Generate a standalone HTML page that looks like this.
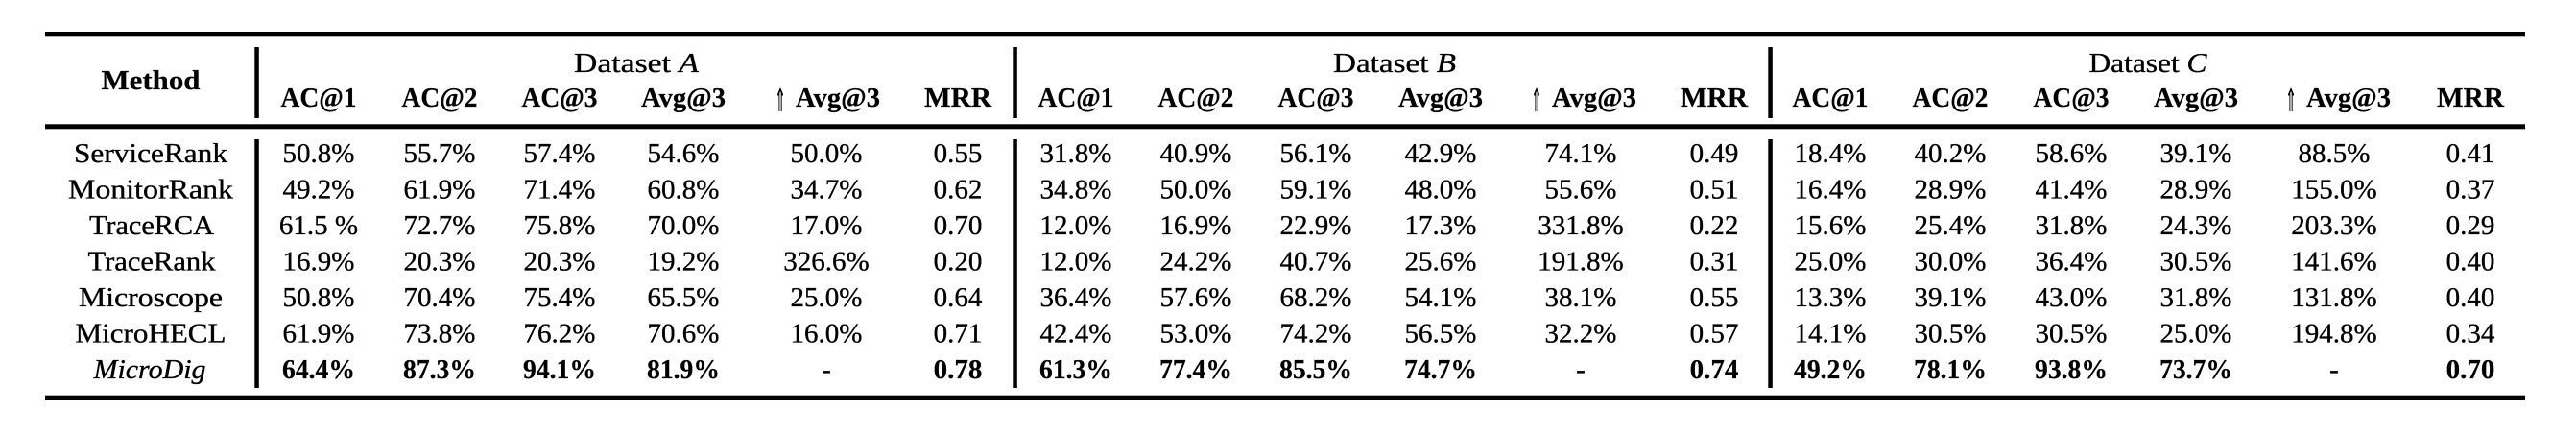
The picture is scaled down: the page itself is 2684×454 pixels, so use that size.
<!DOCTYPE html>
<html><head><meta charset="utf-8"><style>
html,body{margin:0;padding:0;background:#fff;}
svg{display:block;}
text{font-family:"Liberation Serif",serif;font-size:29px;fill:#000;stroke:#000;stroke-width:0.35px;}
.b{font-weight:bold;stroke-width:0.2px;}
.m{text-anchor:middle;}
.ar{font-family:"DejaVu Sans",sans-serif;font-size:33px;stroke-width:0.3px;}
</style></head><body>
<svg width="2684" height="454" viewBox="0 0 2684 454" xmlns="http://www.w3.org/2000/svg">
<rect width="2684" height="454" fill="#fff"/>
<!-- rules -->
<rect x="47" y="33" width="2584" height="5.3" fill="#000"/>
<rect x="47" y="129.3" width="2584" height="5" fill="#000"/>
<rect x="47" y="411.7" width="2584" height="5" fill="#000"/>
<!-- vertical bars header -->
<rect x="265.3" y="49" width="4.5" height="74" fill="#000"/>
<rect x="1055.3" y="49" width="4.5" height="74" fill="#000"/>
<rect x="1842.3" y="49" width="4.5" height="74" fill="#000"/>
<!-- vertical bars body -->
<rect x="265.3" y="145" width="4.5" height="259" fill="#000"/>
<rect x="1055.3" y="145" width="4.5" height="259" fill="#000"/>
<rect x="1842.3" y="145" width="4.5" height="259" fill="#000"/>

<!-- header -->
<text class="b m" x="157" y="93" textLength="103" lengthAdjust="spacingAndGlyphs">Method</text>
<text class="m" x="663" y="75" textLength="130" lengthAdjust="spacingAndGlyphs">Dataset <tspan font-style="italic">A</tspan></text>
<text class="m" x="1453" y="75" textLength="128" lengthAdjust="spacingAndGlyphs">Dataset <tspan font-style="italic">B</tspan></text>
<text class="m" x="2238" y="75" textLength="123" lengthAdjust="spacingAndGlyphs">Dataset <tspan font-style="italic">C</tspan></text>

<text class="b m" x="332" y="111" textLength="79" lengthAdjust="spacingAndGlyphs">AC@1</text>
<text class="b m" x="458" y="111" textLength="79" lengthAdjust="spacingAndGlyphs">AC@2</text>
<text class="b m" x="583" y="111" textLength="79" lengthAdjust="spacingAndGlyphs">AC@3</text>
<text class="b m" x="712" y="111" textLength="88" lengthAdjust="spacingAndGlyphs">Avg@3</text>
<text class="b" x="829" y="111" textLength="88" lengthAdjust="spacingAndGlyphs">Avg@3</text>
<text class="b m" x="998" y="111" textLength="70" lengthAdjust="spacingAndGlyphs">MRR</text>

<text class="b m" x="1121" y="111" textLength="79" lengthAdjust="spacingAndGlyphs">AC@1</text>
<text class="b m" x="1246" y="111" textLength="79" lengthAdjust="spacingAndGlyphs">AC@2</text>
<text class="b m" x="1371" y="111" textLength="79" lengthAdjust="spacingAndGlyphs">AC@3</text>
<text class="b m" x="1501" y="111" textLength="88" lengthAdjust="spacingAndGlyphs">Avg@3</text>
<text class="b" x="1617" y="111" textLength="88" lengthAdjust="spacingAndGlyphs">Avg@3</text>
<text class="b m" x="1786" y="111" textLength="70" lengthAdjust="spacingAndGlyphs">MRR</text>

<text class="b m" x="1907" y="111" textLength="79" lengthAdjust="spacingAndGlyphs">AC@1</text>
<text class="b m" x="2032" y="111" textLength="79" lengthAdjust="spacingAndGlyphs">AC@2</text>
<text class="b m" x="2158" y="111" textLength="79" lengthAdjust="spacingAndGlyphs">AC@3</text>
<text class="b m" x="2288" y="111" textLength="88" lengthAdjust="spacingAndGlyphs">Avg@3</text>
<text class="b" x="2403" y="111" textLength="88" lengthAdjust="spacingAndGlyphs">Avg@3</text>
<text class="b m" x="2574" y="111" textLength="70" lengthAdjust="spacingAndGlyphs">MRR</text>

<!-- arrows -->
<text class="m ar" transform="translate(813,116) scale(0.42,1)" x="0" y="0">⇑</text>
<text class="m ar" transform="translate(1601,116) scale(0.42,1)" x="0" y="0">⇑</text>
<text class="m ar" transform="translate(2387,116) scale(0.42,1)" x="0" y="0">⇑</text>

<!-- method names -->
<text class="m" x="157" y="169" textLength="160" lengthAdjust="spacingAndGlyphs">ServiceRank</text>
<text class="m" x="157" y="206.5" textLength="172" lengthAdjust="spacingAndGlyphs">MonitorRank</text>
<text class="m" x="158" y="244" textLength="130" lengthAdjust="spacingAndGlyphs">TraceRCA</text>
<text class="m" x="158" y="281.5" textLength="133" lengthAdjust="spacingAndGlyphs">TraceRank</text>
<text class="m" x="157" y="319" textLength="150" lengthAdjust="spacingAndGlyphs">Microscope</text>
<text class="m" x="157" y="356.5" textLength="157" lengthAdjust="spacingAndGlyphs">MicroHECL</text>
<text class="m" x="156" y="394" textLength="117" lengthAdjust="spacingAndGlyphs" font-style="italic">MicroDig</text>

<text class="m" x="332" y="169">50.8%</text><text class="m" x="458" y="169">55.7%</text><text class="m" x="583" y="169">57.4%</text><text class="m" x="712" y="169">54.6%</text><text class="m" x="861" y="169">50.0%</text><text class="m" x="998" y="169">0.55</text>
<text class="m" x="1121" y="169">31.8%</text><text class="m" x="1246" y="169">40.9%</text><text class="m" x="1371" y="169">56.1%</text><text class="m" x="1501" y="169">42.9%</text><text class="m" x="1647" y="169">74.1%</text><text class="m" x="1786" y="169">0.49</text>
<text class="m" x="1907" y="169">18.4%</text><text class="m" x="2032" y="169">40.2%</text><text class="m" x="2158" y="169">58.6%</text><text class="m" x="2288" y="169">39.1%</text><text class="m" x="2432" y="169">88.5%</text><text class="m" x="2574" y="169">0.41</text>

<text class="m" x="332" y="206.5">49.2%</text><text class="m" x="458" y="206.5">61.9%</text><text class="m" x="583" y="206.5">71.4%</text><text class="m" x="712" y="206.5">60.8%</text><text class="m" x="861" y="206.5">34.7%</text><text class="m" x="998" y="206.5">0.62</text>
<text class="m" x="1121" y="206.5">34.8%</text><text class="m" x="1246" y="206.5">50.0%</text><text class="m" x="1371" y="206.5">59.1%</text><text class="m" x="1501" y="206.5">48.0%</text><text class="m" x="1647" y="206.5">55.6%</text><text class="m" x="1786" y="206.5">0.51</text>
<text class="m" x="1907" y="206.5">16.4%</text><text class="m" x="2032" y="206.5">28.9%</text><text class="m" x="2158" y="206.5">41.4%</text><text class="m" x="2288" y="206.5">28.9%</text><text class="m" x="2432" y="206.5">155.0%</text><text class="m" x="2574" y="206.5">0.37</text>

<text class="m" x="332" y="244">61.5 %</text><text class="m" x="458" y="244">72.7%</text><text class="m" x="583" y="244">75.8%</text><text class="m" x="712" y="244">70.0%</text><text class="m" x="861" y="244">17.0%</text><text class="m" x="998" y="244">0.70</text>
<text class="m" x="1121" y="244">12.0%</text><text class="m" x="1246" y="244">16.9%</text><text class="m" x="1371" y="244">22.9%</text><text class="m" x="1501" y="244">17.3%</text><text class="m" x="1647" y="244">331.8%</text><text class="m" x="1786" y="244">0.22</text>
<text class="m" x="1907" y="244">15.6%</text><text class="m" x="2032" y="244">25.4%</text><text class="m" x="2158" y="244">31.8%</text><text class="m" x="2288" y="244">24.3%</text><text class="m" x="2432" y="244">203.3%</text><text class="m" x="2574" y="244">0.29</text>

<text class="m" x="332" y="281.5">16.9%</text><text class="m" x="458" y="281.5">20.3%</text><text class="m" x="583" y="281.5">20.3%</text><text class="m" x="712" y="281.5">19.2%</text><text class="m" x="861" y="281.5">326.6%</text><text class="m" x="998" y="281.5">0.20</text>
<text class="m" x="1121" y="281.5">12.0%</text><text class="m" x="1246" y="281.5">24.2%</text><text class="m" x="1371" y="281.5">40.7%</text><text class="m" x="1501" y="281.5">25.6%</text><text class="m" x="1647" y="281.5">191.8%</text><text class="m" x="1786" y="281.5">0.31</text>
<text class="m" x="1907" y="281.5">25.0%</text><text class="m" x="2032" y="281.5">30.0%</text><text class="m" x="2158" y="281.5">36.4%</text><text class="m" x="2288" y="281.5">30.5%</text><text class="m" x="2432" y="281.5">141.6%</text><text class="m" x="2574" y="281.5">0.40</text>

<text class="m" x="332" y="319">50.8%</text><text class="m" x="458" y="319">70.4%</text><text class="m" x="583" y="319">75.4%</text><text class="m" x="712" y="319">65.5%</text><text class="m" x="861" y="319">25.0%</text><text class="m" x="998" y="319">0.64</text>
<text class="m" x="1121" y="319">36.4%</text><text class="m" x="1246" y="319">57.6%</text><text class="m" x="1371" y="319">68.2%</text><text class="m" x="1501" y="319">54.1%</text><text class="m" x="1647" y="319">38.1%</text><text class="m" x="1786" y="319">0.55</text>
<text class="m" x="1907" y="319">13.3%</text><text class="m" x="2032" y="319">39.1%</text><text class="m" x="2158" y="319">43.0%</text><text class="m" x="2288" y="319">31.8%</text><text class="m" x="2432" y="319">131.8%</text><text class="m" x="2574" y="319">0.40</text>

<text class="m" x="332" y="356.5">61.9%</text><text class="m" x="458" y="356.5">73.8%</text><text class="m" x="583" y="356.5">76.2%</text><text class="m" x="712" y="356.5">70.6%</text><text class="m" x="861" y="356.5">16.0%</text><text class="m" x="998" y="356.5">0.71</text>
<text class="m" x="1121" y="356.5">42.4%</text><text class="m" x="1246" y="356.5">53.0%</text><text class="m" x="1371" y="356.5">74.2%</text><text class="m" x="1501" y="356.5">56.5%</text><text class="m" x="1647" y="356.5">32.2%</text><text class="m" x="1786" y="356.5">0.57</text>
<text class="m" x="1907" y="356.5">14.1%</text><text class="m" x="2032" y="356.5">30.5%</text><text class="m" x="2158" y="356.5">30.5%</text><text class="m" x="2288" y="356.5">25.0%</text><text class="m" x="2432" y="356.5">194.8%</text><text class="m" x="2574" y="356.5">0.34</text>

<text class="b m" x="332" y="394" textLength="76" lengthAdjust="spacingAndGlyphs">64.4%</text><text class="b m" x="458" y="394" textLength="76" lengthAdjust="spacingAndGlyphs">87.3%</text><text class="b m" x="583" y="394" textLength="76" lengthAdjust="spacingAndGlyphs">94.1%</text><text class="b m" x="712" y="394" textLength="76" lengthAdjust="spacingAndGlyphs">81.9%</text><text class="m" x="861" y="394">-</text><text class="b m" x="998" y="394">0.78</text>
<text class="b m" x="1121" y="394" textLength="76" lengthAdjust="spacingAndGlyphs">61.3%</text><text class="b m" x="1246" y="394" textLength="76" lengthAdjust="spacingAndGlyphs">77.4%</text><text class="b m" x="1371" y="394" textLength="76" lengthAdjust="spacingAndGlyphs">85.5%</text><text class="b m" x="1501" y="394" textLength="76" lengthAdjust="spacingAndGlyphs">74.7%</text><text class="m" x="1647" y="394">-</text><text class="b m" x="1786" y="394">0.74</text>
<text class="b m" x="1907" y="394" textLength="76" lengthAdjust="spacingAndGlyphs">49.2%</text><text class="b m" x="2032" y="394" textLength="76" lengthAdjust="spacingAndGlyphs">78.1%</text><text class="b m" x="2158" y="394" textLength="76" lengthAdjust="spacingAndGlyphs">93.8%</text><text class="b m" x="2288" y="394" textLength="76" lengthAdjust="spacingAndGlyphs">73.7%</text><text class="m" x="2432" y="394">-</text><text class="b m" x="2574" y="394">0.70</text>
</svg>
</body></html>
